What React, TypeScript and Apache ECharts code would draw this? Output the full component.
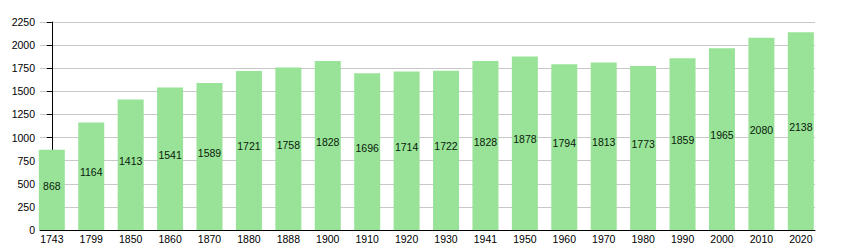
import React, { useEffect, useRef } from "react";
import * as echarts from "echarts";

const years = ["1743","1799","1850","1860","1870","1880","1888","1900","1910","1920","1930","1941","1950","1960","1970","1980","1990","2000","2010","2020"];
const population = [868,1164,1413,1541,1589,1721,1758,1828,1696,1714,1722,1828,1878,1794,1813,1773,1859,1965,2080,2138];
const yTicks = [0,250,500,750,1000,1250,1500,1750,2000,2250];

export default function App() {
  const ref = useRef<HTMLDivElement>(null);
  useEffect(() => {
    const chart = echarts.init(ref.current!, null, { renderer: "svg" });
    const idx = years.map((_, i) => i);
    chart.setOption({
      animation: false,
      textStyle: { fontFamily: "Liberation Sans, Arial, sans-serif" },
      grid: { left: 40, right: 35, top: 22, bottom: 20, containLabel: false },
      xAxis: {
        type: "value",
        min: -0.3,
        max: 19.36,
        axisLine: { show: true, onZero: false, lineStyle: { color: "#000", width: 1 } },
        axisTick: { show: false },
        splitLine: { show: false },
        axisLabel: {
          color: "#000",
          fontSize: 10.5,
          margin: 3,
          customValues: idx,
          formatter: (v: number) => years[Math.round(v)] ?? "",
        },
      },
      yAxis: {
        type: "value",
        min: 0,
        max: 2250,
        interval: 250,
        axisLine: { show: true, lineStyle: { color: "#000", width: 1 } },
        axisTick: { show: true, length: 5, lineStyle: { color: "#000" } },
        axisLabel: {
          color: "#000",
          fontSize: 10.5,
          margin: 5,
          customValues: yTicks,
          formatter: (v: number) => String(v),
        },
        splitLine: { lineStyle: { color: "#c8c8c8", width: 1 } },
      },
      series: [
        {
          type: "bar",
          data: population.map((v, i) => [i, v]),
          barWidth: 26,
          itemStyle: { color: "#98e398" },
          label: {
            show: true,
            position: "inside",
            offset: [0, -4],
            color: "#0a1a0a",
            fontSize: 10.5,
            formatter: (p: any) => String(p.value[1]),
          },
        },
      ],
    });
    return () => chart.dispose();
  }, []);
  return <div ref={ref} style={{ width: 850, height: 250, marginLeft: -8, marginTop: -8 }} />;
}
